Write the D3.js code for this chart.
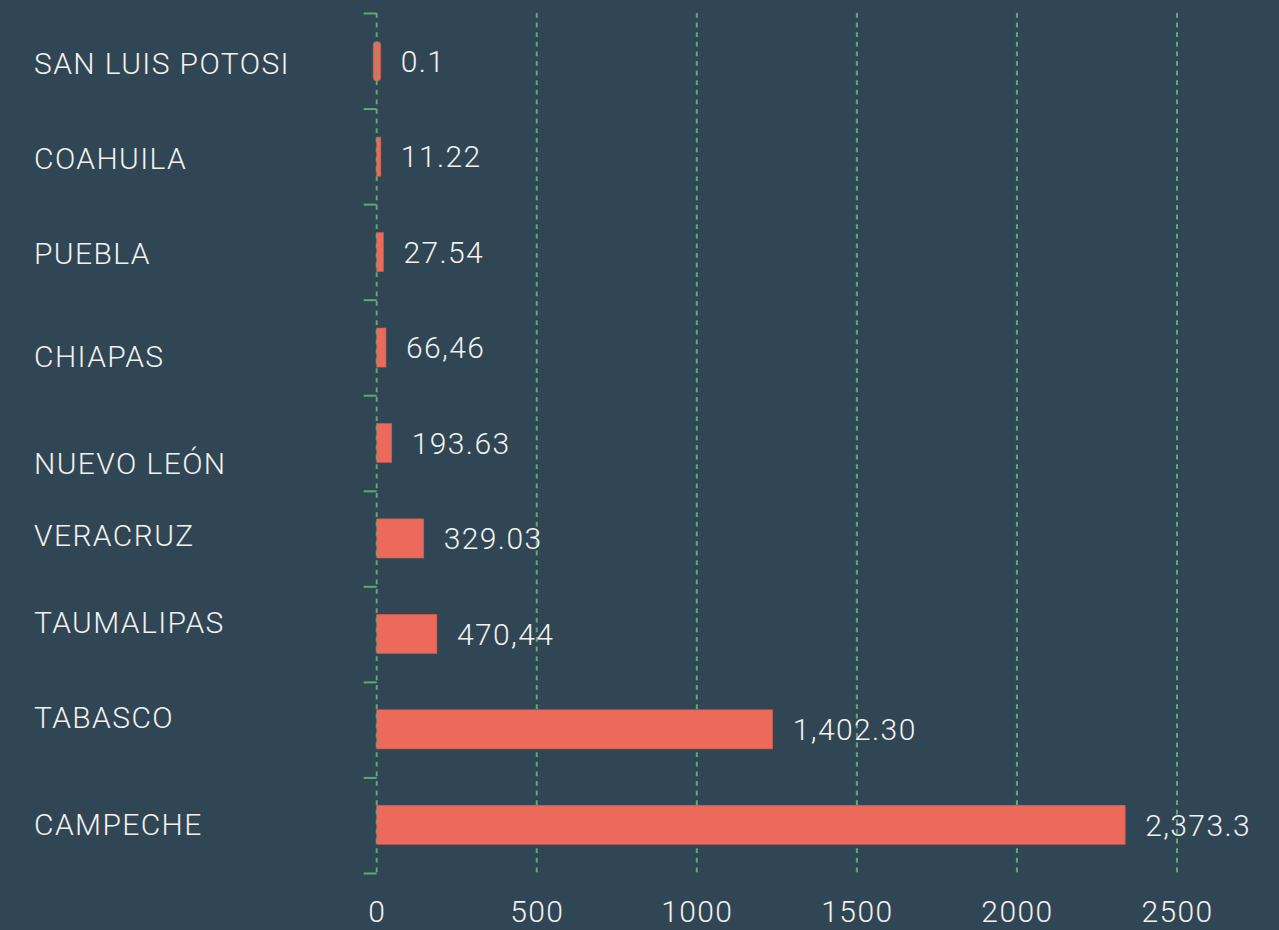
<!DOCTYPE html>
<html>
<head>
<meta charset="utf-8">
<script src="https://cdn.jsdelivr.net/npm/d3@7"></script>
<style>
  html, body { margin: 0; padding: 0; background: #304654; }
  svg text { font-family: Roboto, "Noto Sans", sans-serif; font-weight: 300; fill: #f2f2f2; letter-spacing: 1.4px; }
</style>
</head>
<body>
<div id="chart"></div>
<script>
// categories, top to bottom
var states = ['SAN LUIS POTOSI', 'COAHUILA', 'PUEBLA', 'CHIAPAS', 'NUEVO LEÓN',
              'VERACRUZ', 'TAUMALIPAS', 'TABASCO', 'CAMPECHE'];
// bar lengths as drawn in the picture
var barValues = [0.1, 13, 21, 29, 47, 147, 188, 1237, 2338];
// value labels as printed next to the bars
var valueLabels = ['0.1', '11.22', '27.54', '66,46', '193.63', '329.03', '470,44', '1,402.30', '2,373.3'];
var xTicks = [0, 500, 1000, 1500, 2000, 2500];

// layout
var width = 1279, height = 930;
var plotLeft = 376.7, plotRight = 1177, plotTop = 13, plotBottom = 873;
// the state names sit a little off their bars in the original
var nameNudge = [2, 2, 1, 9, 20, -3, -12, -12, -1];

var svg = d3.select('#chart').append('svg')
    .attr('width', width)
    .attr('height', height);

var x = d3.scaleLinear().domain([0, 2500]).range([plotLeft, plotRight]);
var y = d3.scaleBand().domain(states).range([plotTop, plotBottom]).paddingInner(0.59).paddingOuter(0.3);
var yEdge = d3.scaleLinear().domain([0, states.length]).range([plotTop, plotBottom]);

var green = '#62a877';

// grid lines
svg.append('g')
  .selectAll('line')
  .data(xTicks.slice(1))
  .enter().append('line')
    .attr('x1', function(d){ return x(d); })
    .attr('x2', function(d){ return x(d); })
    .attr('y1', plotTop)
    .attr('y2', plotBottom + 1)
    .attr('stroke', green)
    .attr('stroke-width', 2)
    .attr('stroke-dasharray', '4.8,4.8');

// bars
svg.append('g')
  .selectAll('rect')
  .data(barValues)
  .enter().append('rect')
    .attr('x', function(d){ var w = x(d) - x(0); return w < 3 ? x(0) - 3.5 : x(0); })
    .attr('y', function(d, i){ return y(states[i]); })
    .attr('width', function(d){ var w = x(d) - x(0); return w < 3 ? 7.5 : w; })
    .attr('height', y.bandwidth())
    .attr('rx', function(d){ return x(d) - x(0) < 3 ? 3 : 0; })
    .attr('fill', '#ec6a5c')
    .attr('stroke', '#c85d52')
    .attr('stroke-width', 0.6);

// y axis: dashed spine with ticks at the band edges
var yAxis = d3.axisLeft(yEdge)
    .tickValues(d3.range(0, states.length + 1))
    .tickSize(13)
    .tickFormat('');
var ya = svg.append('g')
    .attr('transform', 'translate(' + plotLeft + ',0)')
    .call(yAxis);
ya.select('.domain').remove();
ya.selectAll('.tick line').attr('stroke', green).attr('stroke-width', 2);
ya.append('line')
    .attr('x1', 0).attr('x2', 0)
    .attr('y1', plotTop).attr('y2', plotBottom)
    .attr('stroke', green)
    .attr('stroke-width', 2)
    .attr('stroke-dasharray', '4.8,4.8');

// state names
svg.append('g')
  .selectAll('text')
  .data(states)
  .enter().append('text')
    .attr('x', 34)
    .attr('y', function(d, i){ return y(d) + y.bandwidth() / 2 + nameNudge[i]; })
    .attr('dy', '0.36em')
    .attr('font-size', 30)
    .text(function(d){ return d; });

// value labels
svg.append('g')
  .selectAll('text')
  .data(valueLabels)
  .enter().append('text')
    .attr('x', function(d, i){ return Math.max(x(barValues[i]), x(0) + 4) + 20; })
    .attr('y', function(d, i){ return y(states[i]) + y.bandwidth() / 2; })
    .attr('dy', '0.36em')
    .attr('font-size', 30)
    .text(function(d){ return d; });

// x axis labels
var xAxis = d3.axisBottom(x)
    .tickValues(xTicks)
    .tickSize(0)
    .tickPadding(0)
    .tickFormat(d3.format('d'));
var xa = svg.append('g')
    .attr('transform', 'translate(0,' + (plotBottom + 28) + ')')
    .call(xAxis);
xa.select('.domain').remove();
xa.selectAll('text')
    .attr('font-size', 30)
    .attr('font-family', null)
    .attr('fill', null)
    .attr('dy', '0.7em');
</script>
</body>
</html>
